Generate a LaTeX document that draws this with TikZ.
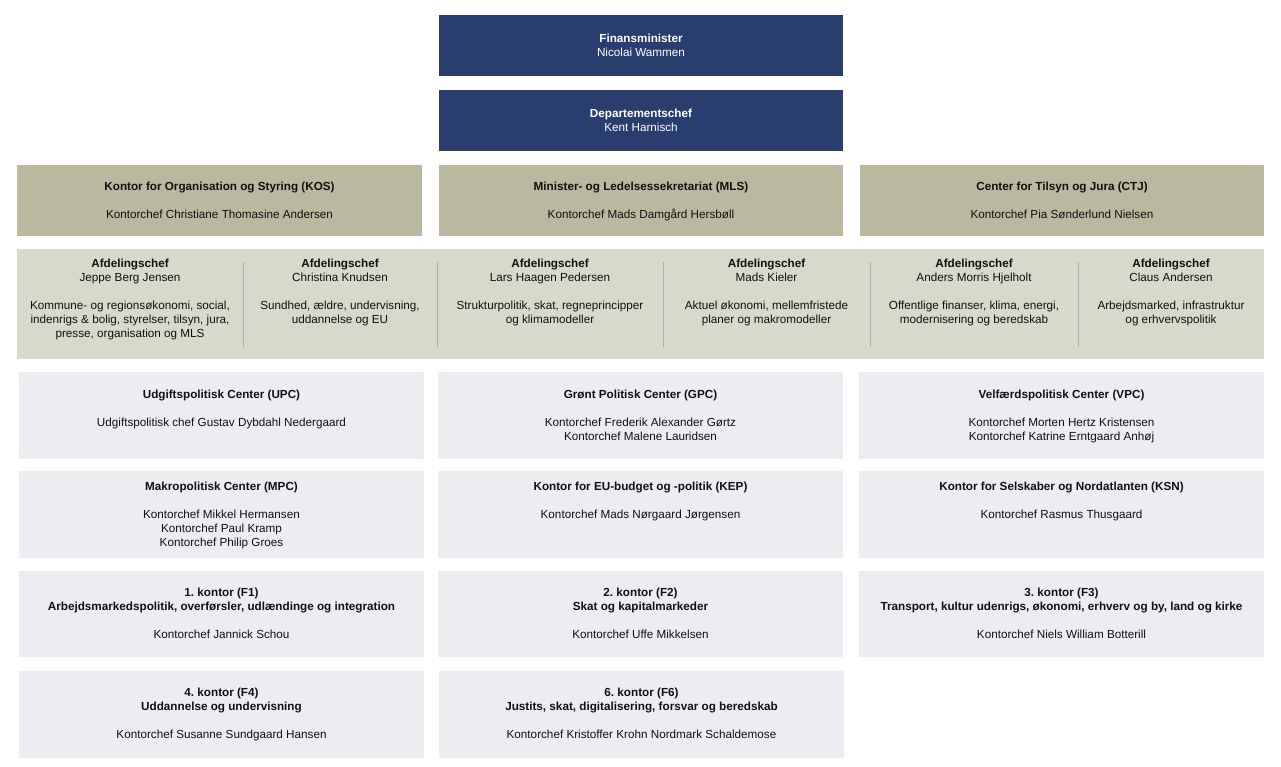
\documentclass[tikz,border=0pt]{standalone}
\usepackage{fontspec}
\setmainfont{Liberation Sans}
\frenchspacing
\definecolor{navy}{HTML}{293D6F}
\definecolor{khaki}{HTML}{BAB89F}
\definecolor{band}{HTML}{D8D8CB}
\definecolor{gbox}{HTML}{EDEDF1}
\definecolor{divider}{HTML}{AFAFAF}
\definecolor{ink}{HTML}{111111}
\newcommand{\orgbox}[6]{%
  \node[#2, anchor=north west, inner sep=0pt, outer sep=0pt,
        minimum width={(#5-#3)*1pt}, minimum height={(#6-#4)*1pt}] (#1) at (#3,#4) {};}
\begin{document}
\begin{tikzpicture}[x=1pt,y=-1pt,
  navybox/.style={fill=navy},
  khakibox/.style={fill=khaki},
  bandbox/.style={fill=band},
  graybox/.style={fill=gbox},
  txt/.style={align=center, anchor=north, inner sep=0pt, text=ink,
    font=\fontsize{11.7pt}{14pt}\selectfont\frenchspacing},
  wtxt/.style={txt, text=white},
  divline/.style={draw=divider, line width=0.8pt}]
\useasboundingbox (0,0) rectangle (1281,767);
% top boxes
\orgbox{fm}{navybox}{439}{15}{843}{76}
\orgbox{dc}{navybox}{439}{90}{843}{151}
\node[wtxt] (fm-t) at (641,32.5) {\strut\textbf{Finansminister}\\Nicolai Wammen};
\node[wtxt] (dc-t) at (641,107.5) {\strut\textbf{Departementschef}\\Kent Harnisch};
% khaki row
\orgbox{kos}{khakibox}{17}{165}{422}{236}
\orgbox{mls}{khakibox}{439}{165}{843}{236}
\orgbox{ctj}{khakibox}{860}{165}{1264}{236}
\node[txt] (kos-t) at (219.5,180.5) {\strut\textbf{Kontor for Organisation og Styring (KOS)}\\[14pt]Kontorchef Christiane Thomasine Andersen};
\node[txt] (mls-t) at (641,180.5) {\strut\textbf{Minister- og Ledelsessekretariat (MLS)}\\[14pt]Kontorchef Mads Damgård Hersbøll};
\node[txt] (ctj-t) at (1062,180.5) {\strut\textbf{Center for Tilsyn og Jura (CTJ)}\\[14pt]Kontorchef Pia Sønderlund Nielsen};
% band
\orgbox{afd}{bandbox}{17}{249}{1264}{359}
\coordinate (d1a) at (243,262); \coordinate (d1b) at (243,347);
\coordinate (d2a) at (437,262); \coordinate (d2b) at (437,347);
\coordinate (d3a) at (663,262); \coordinate (d3b) at (663,347);
\coordinate (d4a) at (870,262); \coordinate (d4b) at (870,347);
\coordinate (d5a) at (1078,262); \coordinate (d5b) at (1078,347);
\draw[divline] (d1a) -- (d1b);
\draw[divline] (d2a) -- (d2b);
\draw[divline] (d3a) -- (d3b);
\draw[divline] (d4a) -- (d4b);
\draw[divline] (d5a) -- (d5b);
\node[txt] (a1) at (130,257.5) {\strut\textbf{Afdelingschef}\\Jeppe Berg Jensen\\[14pt]Kommune- og regionsøkonomi, social,\\indenrigs \& bolig, styrelser, tilsyn, jura,\\presse, organisation og MLS};
\node[txt] (a2) at (340,257.5) {\strut\textbf{Afdelingschef}\\Christina Knudsen\\[14pt]Sundhed, ældre, undervisning,\\uddannelse og EU};
\node[txt] (a3) at (550,257.5) {\strut\textbf{Afdelingschef}\\Lars Haagen Pedersen\\[14pt]Strukturpolitik, skat, regneprincipper\\og klimamodeller};
\node[txt] (a4) at (766.5,257.5) {\strut\textbf{Afdelingschef}\\Mads Kieler\\[14pt]Aktuel økonomi, mellemfristede\\planer og makromodeller};
\node[txt] (a5) at (974,257.5) {\strut\textbf{Afdelingschef}\\Anders Morris Hjelholt\\[14pt]Offentlige finanser, klima, energi,\\modernisering og beredskab};
\node[txt] (a6) at (1171,257.5) {\strut\textbf{Afdelingschef}\\Claus Andersen\\[14pt]Arbejdsmarked, infrastruktur\\og erhvervspolitik};
% row 1
\orgbox{upc}{graybox}{19}{372}{424}{459}
\orgbox{gpc}{graybox}{438}{372}{843}{459}
\orgbox{vpc}{graybox}{859}{372}{1264}{459}
\node[txt] (upc-t) at (221.5,388.5) {\strut\textbf{Udgiftspolitisk Center (UPC)}\\[14pt]Udgiftspolitisk chef Gustav Dybdahl Nedergaard};
\node[txt] (gpc-t) at (640.5,388.5) {\strut\textbf{Grønt Politisk Center (GPC)}\\[14pt]Kontorchef Frederik Alexander Gørtz\\Kontorchef Malene Lauridsen};
\node[txt] (vpc-t) at (1061.5,388.5) {\strut\textbf{Velfærdspolitisk Center (VPC)}\\[14pt]Kontorchef Morten Hertz Kristensen\\Kontorchef Katrine Erntgaard Anhøj};
% row 2
\orgbox{mpc}{graybox}{19}{471}{424}{558}
\orgbox{kep}{graybox}{438}{471}{843}{558}
\orgbox{ksn}{graybox}{859}{471}{1264}{558}
\node[txt] (mpc-t) at (221.5,480.5) {\strut\textbf{Makropolitisk Center (MPC)}\\[14pt]Kontorchef Mikkel Hermansen\\Kontorchef Paul Kramp\\Kontorchef Philip Groes};
\node[txt] (kep-t) at (640.5,480.5) {\strut\textbf{Kontor for EU-budget og -politik (KEP)}\\[14pt]Kontorchef Mads Nørgaard Jørgensen};
\node[txt] (ksn-t) at (1061.5,480.5) {\strut\textbf{Kontor for Selskaber og Nordatlanten (KSN)}\\[14pt]Kontorchef Rasmus Thusgaard};
% row 3
\orgbox{f1}{graybox}{19}{571}{424}{657}
\orgbox{f2}{graybox}{438}{571}{843}{657}
\orgbox{f3}{graybox}{859}{571}{1264}{657}
\node[txt] (f1-t) at (221.5,586.5) {\strut\textbf{1. kontor (F1)}\\\textbf{Arbejdsmarkedspolitik, overførsler, udlændinge og integration}\\[14pt]Kontorchef Jannick Schou};
\node[txt] (f2-t) at (640.5,586.5) {\strut\textbf{2. kontor (F2)}\\\textbf{Skat og kapitalmarkeder}\\[14pt]Kontorchef Uffe Mikkelsen};
\node[txt] (f3-t) at (1061.5,586.5) {\strut\textbf{3. kontor (F3)}\\\textbf{Transport, kultur udenrigs, økonomi, erhverv og by, land og kirke}\\[14pt]Kontorchef Niels William Botterill};
% row 4
\orgbox{f4}{graybox}{19}{671}{424}{758}
\orgbox{f6}{graybox}{439}{671}{844}{758}
\node[txt] (f4-t) at (221.5,686.5) {\strut\textbf{4. kontor (F4)}\\\textbf{Uddannelse og undervisning}\\[14pt]Kontorchef Susanne Sundgaard Hansen};
\node[txt] (f6-t) at (641.5,686.5) {\strut\textbf{6. kontor (F6)}\\\textbf{Justits, skat, digitalisering, forsvar og beredskab}\\[14pt]Kontorchef Kristoffer Krohn Nordmark Schaldemose};
\end{tikzpicture}
\end{document}
